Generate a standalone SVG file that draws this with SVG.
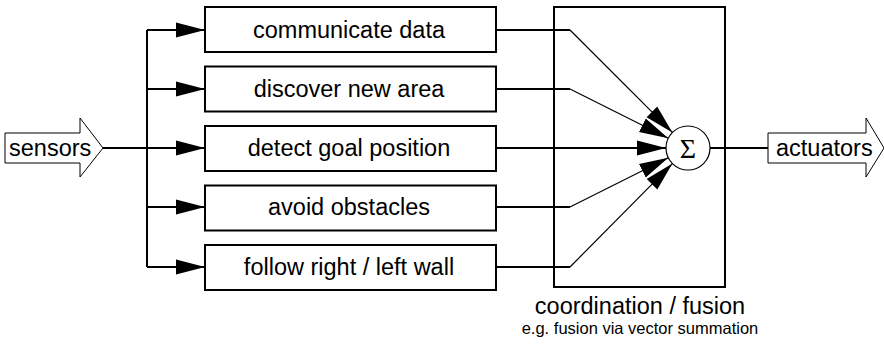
<svg xmlns="http://www.w3.org/2000/svg" width="884" height="345" viewBox="0 0 884 345">
<style>
.box{fill:#fff;stroke:#000;stroke-width:2}
.lbl{font-family:"Liberation Sans",Arial,sans-serif;font-size:23.5px;fill:#000;text-anchor:middle}
.ln{fill:none;stroke:#000;stroke-width:2}
.thin{fill:none;stroke:#000;stroke-width:1.2}
.big{fill:#fff;stroke:#000;stroke-width:1}
</style>
<defs>
<marker id="ah" markerUnits="userSpaceOnUse" markerWidth="29" markerHeight="16" refX="29" refY="8" orient="auto" viewBox="0 0 29 16">
<path d="M0,0.5 L29,8 L0,15.5 z" fill="#000"/>
</marker>
</defs>
<rect x="0" y="0" width="884" height="345" fill="#fff"/>
<g id="connectors">
<path class="ln" d="M103,148 H147 M147,30 V267"/>
<path class="ln" d="M147,30 H205" marker-end="url(#ah)"/>
<path class="ln" d="M147,89 H205" marker-end="url(#ah)"/>
<path class="ln" d="M147,148 H205" marker-end="url(#ah)"/>
<path class="ln" d="M147,207 H205" marker-end="url(#ah)"/>
<path class="ln" d="M147,267 H205" marker-end="url(#ah)"/>
<path class="ln" d="M497,30 H570 M497,89 H570 M497,207 H570 M497,267 H570"/>
<path class="thin" d="M570,30 L672.4,132.4" marker-end="url(#ah)"/>
<path class="thin" d="M570,89 L668.3,138.2" marker-end="url(#ah)"/>
<path class="ln" d="M497,148 H666" marker-end="url(#ah)"/>
<path class="thin" d="M570,207 L668.3,157.8" marker-end="url(#ah)"/>
<path class="thin" d="M570,267 L672.4,163.6" marker-end="url(#ah)"/>
<path class="ln" d="M710,148 H768"/>
</g>
<g id="coordination">
<rect x="554" y="7" width="171" height="280" fill="none" stroke="#000" stroke-width="2"/>
<text class="lbl" x="640" y="314">coordination / fusion</text>
<text x="640" y="334" font-family="Liberation Sans,Arial,sans-serif" font-size="16.5" text-anchor="middle">e.g. fusion via vector summation</text>
</g>
<g id="sum">
<circle cx="688" cy="148" r="22" fill="#fff" stroke="#000" stroke-width="1.2"/>
<text x="688" y="157.5" font-family="Liberation Serif,'Times New Roman',serif" font-size="28" text-anchor="middle">Σ</text>
</g>
<g id="sensors">
<path class="big" d="M5,133 H80 V118 L103,148 L80,177 V163 H5 z"/>
<text class="lbl" x="9" y="156" style="text-anchor:start">sensors</text>
</g>
<g id="actuators">
<path class="big" d="M768,133 H866 V118 L884,148 L866,177 V163 H768 z"/>
<text class="lbl" x="776" y="156" style="text-anchor:start">actuators</text>
</g>
<g id="b1"><rect class="box" x="205" y="7" width="291" height="45"/><text class="lbl" x="349" y="38">communicate data</text></g>
<g id="b2"><rect class="box" x="205" y="66.5" width="291" height="45"/><text class="lbl" x="349" y="97">discover new area</text></g>
<g id="b3"><rect class="box" x="205" y="126" width="291" height="45"/><text class="lbl" x="349" y="156">detect goal position</text></g>
<g id="b4"><rect class="box" x="205" y="185.5" width="291" height="45"/><text class="lbl" x="349" y="215">avoid obstacles</text></g>
<g id="b5"><rect class="box" x="205" y="245" width="291" height="45"/><text class="lbl" x="349" y="275">follow right / left wall</text></g>
</svg>
